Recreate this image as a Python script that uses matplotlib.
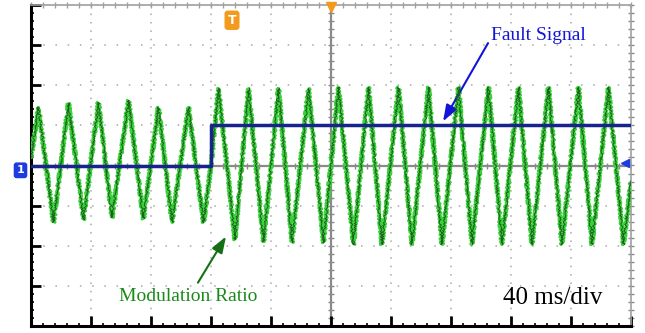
import matplotlib.pyplot as plt
import numpy as np
from matplotlib.ticker import MultipleLocator

# modulation ratio trace: peaks / troughs (ms, divisions)
t_mod = [0, 5, 15, 25, 35, 45, 54, 65, 75, 85, 94, 105, 115, 120,
         125, 136, 145, 155, 165, 174, 185, 195, 205, 215, 225, 234, 245, 254,
         265, 274, 285, 294, 305, 314, 325, 334, 345, 354, 365, 374, 385, 395, 400]
v_mod = [0.2, 1.45, -1.42, 1.55, -1.35, 1.57, -1.3, 1.62, -1.33, 1.45, -1.42, 1.45, -1.42, 0.0,
         1.92, -1.85, 1.92, -1.9, 1.92, -1.92, 1.92, -1.92, 1.95, -1.97, 1.95, -1.97, 1.95, -1.97,
         1.95, -1.97, 1.95, -1.97, 1.95, -1.97, 1.95, -1.97, 1.95, -1.97, 1.95, -1.97, 1.95, -1.97, -0.4]

# fault signal (step at 120 ms)
t_fault = [0, 120, 120, 400]
v_fault = [0, 0, 1, 1]

plt.rcParams['font.family'] = ['Liberation Serif', 'DejaVu Serif']

fig = plt.figure(figsize=(6.45, 3.33), dpi=100)
ax = fig.add_axes([31 / 645, 7 / 333, 600 / 645, 321 / 333])
ax.set_xlim(0, 400)
ax.set_ylim(-4, 4)

grid_c = '#a8a8a8'
# dotted graticule
for xv in np.arange(40, 400, 40):
    if xv != 200:
        ax.axvline(xv, color=grid_c, lw=1.1, ls=(0, (1, 4.5)), zorder=1)
for yv in np.arange(-3, 4, 1):
    if yv != 0:
        ax.axhline(yv, color=grid_c, lw=1.1, ls=(0, (1, 7)), zorder=1)

# centre crosshair with small ticks
ax.axvline(200, color='#8a8a8a', lw=1.6, zorder=1)
ax.axhline(0, color='#8a8a8a', lw=1.6, zorder=1)
ym = np.arange(-4, 4.01, 0.2)
xm = np.arange(0, 400.1, 8)
ax.plot(np.full(len(ym), 200), ym, ls='none', marker='_', ms=5, mew=1.0, color='#8a8a8a', zorder=1)
ax.plot(xm, np.zeros(len(xm)), ls='none', marker='|', ms=5, mew=1.0, color='#8a8a8a', zorder=1)
# small ticks along top and right borders
ax.plot(np.full(len(ym), 400), ym, ls='none', marker='_', ms=5, mew=1.0, color='#8a8a8a',
        zorder=1, clip_on=False)
ax.plot(xm, np.full(len(xm), 4), ls='none', marker='|', ms=4, mew=1.0, color='#a0a0a0',
        zorder=1, clip_on=False)

# traces
l1, = ax.plot(t_mod, v_mod, color='#3ad23a', lw=2.2, zorder=3)
l1.set_sketch_params(1.5, 3, 2)
l2, = ax.plot(t_mod, v_mod, color='#1e5e1e', lw=0.7, zorder=4)
l2.set_sketch_params(1.1, 2, 3)
ax.plot(t_fault, v_fault, color='#18248c', lw=2.5, zorder=5)

# frame
for s in ['top', 'right']:
    ax.spines[s].set_color('#a0a0a0')
    ax.spines[s].set_linewidth(1.2)
for s in ['left', 'bottom']:
    ax.spines[s].set_color('black')
    ax.spines[s].set_linewidth(2.2)

ax.xaxis.set_major_locator(MultipleLocator(40))
ax.xaxis.set_minor_locator(MultipleLocator(8))
ax.yaxis.set_major_locator(MultipleLocator(1))
ax.yaxis.set_minor_locator(MultipleLocator(0.2))
ax.tick_params(which='both', direction='in', labelbottom=False, labelleft=False,
               top=False, right=False, color='black')
ax.tick_params(which='major', length=7, width=2)
ax.tick_params(which='minor', length=2.5, width=1.2)

# annotations
ax.text(338, 3.25, 'Fault Signal', color='#1414d8', fontsize=14, ha='center', va='center')
ax.annotate('', xy=(274.7, 1.1), xytext=(304.7, 3.05),
            arrowprops=dict(arrowstyle='-|>,head_length=0.7,head_width=0.25', color='#1414d8',
                            lw=1.5, shrinkA=0, shrinkB=0, mutation_scale=14))
ax.text(104.7, -3.27, 'Modulation Ratio', color='#1a8a1a', fontsize=14, ha='center', va='center')
ax.annotate('', xy=(130, -1.77), xytext=(111.3, -2.92),
            arrowprops=dict(arrowstyle='-|>,head_length=0.7,head_width=0.25', color='#157015',
                            lw=1.5, shrinkA=0, shrinkB=0, mutation_scale=14))
ax.text(348, -3.3, '40 ms/div', fontsize=18, ha='center', va='center', color='black')

# scope markers
ax.text(-7, -0.12, '1', fontsize=8, color='white', fontweight='bold', ha='center', va='center',
        family='DejaVu Sans', clip_on=False,
        bbox=dict(boxstyle='round,pad=0.2', fc='#1c3ce0', ec='#1c3ce0'))
ax.text(134, 3.62, 'T', fontsize=9, color='white', fontweight='bold', ha='center', va='center',
        family='DejaVu Sans', bbox=dict(boxstyle='round,pad=0.2', fc='#f39a1e', ec='#f39a1e'))
ax.plot([200], [3.95], marker='v', ms=7, color='#f39a1e', clip_on=False, zorder=6)
ax.plot([396], [0.05], marker='<', ms=6, color='#1c3ce0', clip_on=False, zorder=6)

fig.savefig('out.png', dpi=100)
